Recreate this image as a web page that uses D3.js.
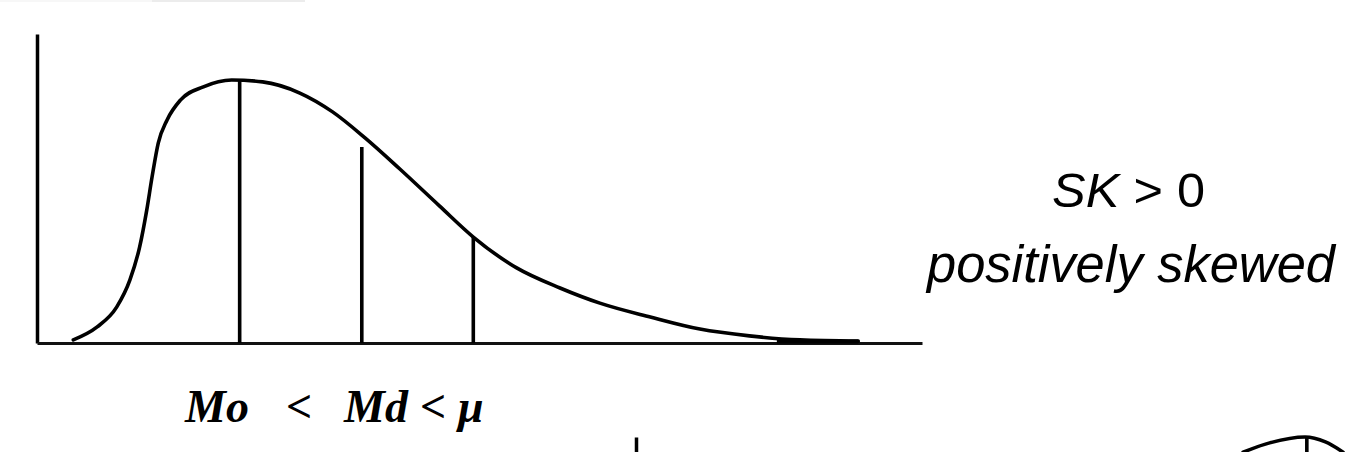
<!DOCTYPE html>
<html>
<head>
<meta charset="utf-8">
<script src="https://cdn.jsdelivr.net/npm/d3@7"></script>
<style>
  html, body { margin: 0; padding: 0; background: #fff; }
  svg { display: block; }
</style>
</head>
<body>
<svg id="chart" width="1368" height="452"></svg>
<script>
// ---- Data (chart units: x 0..100 along the axis, y 0..100 density) ----
const curveX = [4.1, 6.8, 9.0, 10.5, 11.6, 12.4, 13.0, 13.7, 14.7, 16.2, 18.8, 22.0, 25.5, 29.7, 33.4, 37.1, 41.0, 45.5, 49.3, 54.2, 59.1, 63.6, 69.3, 74.9, 80.5, 86.2, 92.8];
const curveY = [1.0, 5.2, 11.6, 20.4, 31.1, 43.0, 53.7, 64.7, 72.2, 78.6, 82.9, 85.1, 84.5, 80.9, 74.8, 66.3, 56.3, 44.3, 34.3, 24.3, 17.8, 12.9, 8.4, 4.5, 2.3, 1.0, 0.6];

const measureNames = ["Mo", "Md", "μ"];
const measureX = [22.9, 36.7, 49.3];
const measureTop = [85.1, 63.4, 34.3];

const relationParts = ["Mo", "<", "Md", "<", "μ"];
const skLabel = ["SK", " > 0"];
const skDescription = "positively skewed";

// next (partially visible) chart below
const nextCurveX = [68.6, 71.6, 75.6, 77.9, 79.9];
const nextCurveY = [95.1, 98.1, 100, 98.4, 95.1];
const nextMeasureX = [75.8];

// ---- Scales ----
const svg = d3.select("#chart");
const x = d3.scaleLinear().domain([0, 100]).range([37, 922]);
const y = d3.scaleLinear().domain([0, 100]).range([343, 34]);

// faint strip at top
svg.append("rect").attr("x", 0).attr("y", 0).attr("width", 152).attr("height", 2).attr("fill", "#f7f7f7");
svg.append("rect").attr("x", 152).attr("y", 0).attr("width", 153).attr("height", 2).attr("fill", "#ececec");

function drawChart(g, cx, cy, mx, mtop, withAxisX) {
  const ya = g.append("g").attr("transform", `translate(${x(0)},0)`)
    .call(d3.axisLeft(y).ticks(0).tickSizeOuter(0));
  ya.select(".domain").attr("stroke", "#000").attr("stroke-width", 3.5);
  if (withAxisX) {
    const xa = g.append("g").attr("transform", `translate(0,${y(0)})`)
      .call(d3.axisBottom(x).ticks(0).tickSizeOuter(0));
    xa.select(".domain").attr("stroke", "#111").attr("stroke-width", 3);
  }
  g.selectAll("line.measure").data(mx).join("line")
    .attr("class", "measure")
    .attr("x1", d => x(d)).attr("x2", d => x(d))
    .attr("y1", y(0)).attr("y2", (d, i) => y(mtop ? mtop[i] : 100))
    .attr("stroke", "#000").attr("stroke-width", 3.6);
  const pts = cx.map((v, i) => [v, cy[i]]);
  g.append("path").datum(pts)
    .attr("d", d3.line().x(d => x(d[0])).y(d => y(d[1])).curve(d3.curveMonotoneX))
    .attr("fill", "none").attr("stroke", "#000").attr("stroke-width", 3.6)
    .attr("stroke-linejoin", "round").attr("stroke-linecap", "round");
}

const main = svg.append("g");
drawChart(main, curveX, curveY, measureX, measureTop, true);
// thicker tail where the curve merges with the axis
main.append("line")
  .attr("x1", x(83.6)).attr("x2", x(curveX[curveX.length - 1]))
  .attr("y1", y(0) - 1.5).attr("y2", y(0) - 1.5)
  .attr("stroke", "#000").attr("stroke-width", 4);

// next chart (clipped by bottom of window)
const next = svg.append("g").attr("transform", "translate(599,403)");
drawChart(next, nextCurveX, nextCurveY, nextMeasureX, null, false);

// relation label
const relX = [185, 286, 344, 420, 458];
svg.selectAll("text.rel").data(relationParts).join("text")
  .attr("class", "rel")
  .attr("x", (d, i) => relX[i]).attr("y", 422)
  .attr("font-family", "'Liberation Serif', 'Times New Roman', serif")
  .attr("font-weight", "bold").attr("font-style", "italic")
  .attr("font-size", 46).attr("fill", "#000")
  .text(d => d);

// SK labels
const sk = svg.append("text")
  .attr("x", 1052).attr("y", 207)
  .attr("font-family", "'Liberation Sans', Arial, sans-serif")
  .attr("font-size", 49)
  .attr("textLength", 153).attr("lengthAdjust", "spacingAndGlyphs")
  .style("white-space", "pre");
sk.append("tspan").attr("font-style", "italic").text(skLabel[0]);
sk.append("tspan").text(skLabel[1]);
svg.append("text")
  .attr("x", 927).attr("y", 282)
  .attr("font-family", "'Liberation Sans', Arial, sans-serif")
  .attr("font-style", "italic").attr("font-size", 51)
  .attr("textLength", 408).attr("lengthAdjust", "spacingAndGlyphs")
  .text(skDescription);
</script>
</body>
</html>
